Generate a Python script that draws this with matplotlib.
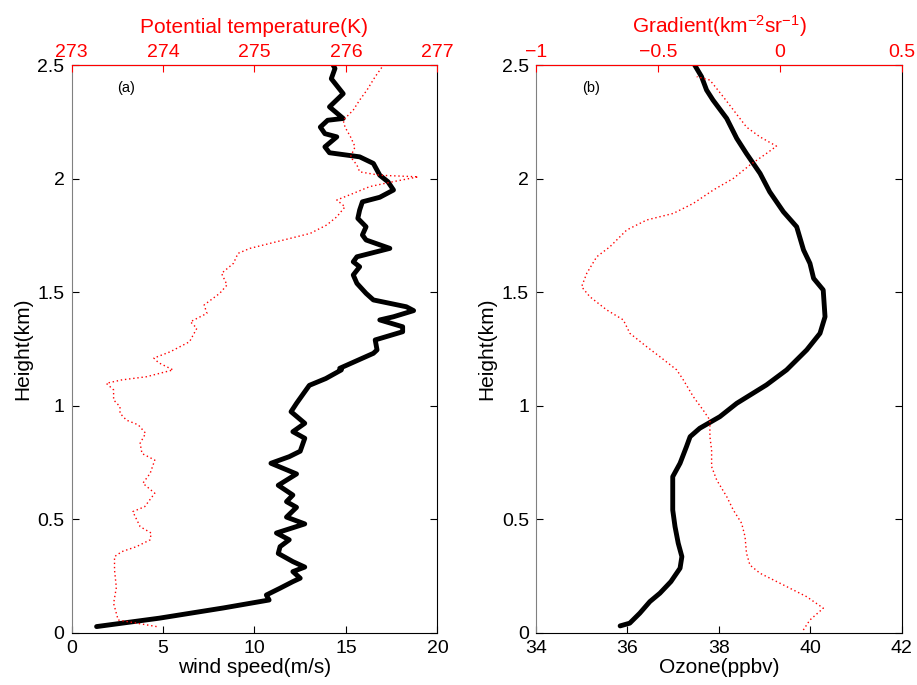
import numpy as np
import matplotlib.pyplot as plt
from matplotlib.ticker import FuncFormatter

plt.rcParams['font.family'] = ['Liberation Sans', 'DejaVu Sans']
plt.rcParams['mathtext.fontset'] = 'custom'
plt.rcParams['mathtext.rm'] = 'Liberation Sans'
plt.rcParams['mathtext.it'] = 'Liberation Sans'
plt.rcParams['axes.unicode_minus'] = True

# (a) 风速 (m/s) 随高度 (km)
wind_h = [0.028, 0.065, 0.11, 0.145, 0.167, 0.197, 0.226, 0.241, 0.27, 0.29, 0.314, 0.35,
          0.38, 0.41, 0.44, 0.48, 0.51, 0.553, 0.578, 0.607, 0.65, 0.70, 0.747, 0.776,
          0.80, 0.857, 0.886, 0.923, 0.974, 1.011, 1.062, 1.09, 1.12, 1.158, 1.165, 1.231,
          1.246, 1.29, 1.326, 1.348, 1.378, 1.392, 1.419, 1.436, 1.466, 1.495, 1.539, 1.576,
          1.612, 1.634, 1.656, 1.693, 1.730, 1.752, 1.788, 1.825, 1.862, 1.898, 1.918, 1.95,
          1.986, 2.015, 2.067, 2.096, 2.114, 2.140, 2.184, 2.198, 2.227, 2.257, 2.265, 2.316,
          2.374, 2.44, 2.485, 2.5]
wind = [1.37, 4.8, 8.3, 10.8, 10.65, 11.4, 12.1, 12.5, 12.1, 12.75, 12.1, 11.3,
        11.4, 11.9, 11.2, 12.75, 11.75, 12.3, 11.75, 12.1, 11.3, 12.3, 10.9, 11.9,
        12.5, 12.75, 12.1, 12.75, 12.0, 12.3, 12.75, 13.0, 13.9, 14.75, 14.66, 16.5,
        16.7, 16.6, 18.1, 18.1, 16.85, 17.6, 18.7, 18.3, 16.5, 16.1, 15.6, 15.4,
        15.75, 15.4, 15.6, 17.4, 16.1, 15.9, 16.1, 15.65, 15.75, 15.9, 16.85, 17.6,
        17.3, 16.85, 16.5, 15.75, 14.1, 13.85, 14.5, 13.85, 13.6, 14.0, 14.85, 14.1,
        14.85, 14.2, 14.4, 14.3]

# (a) 位温 (K)
theta_h = [0.028, 0.057, 0.13, 0.20, 0.277, 0.336, 0.358, 0.38, 0.41, 0.44, 0.468, 0.534,
           0.556, 0.615, 0.659, 0.703, 0.761, 0.79, 0.835, 0.879, 0.916, 0.937, 0.967,
           0.996, 1.026, 1.07, 1.099, 1.114, 1.128, 1.158, 1.19, 1.21, 1.238, 1.282,
           1.341, 1.37, 1.407, 1.444, 1.495, 1.532, 1.583, 1.627, 1.671, 1.693, 1.722,
           1.759, 1.796, 1.832, 1.876, 1.906, 1.935, 1.965, 1.987, 2.008, 2.015, 2.03,
           2.06, 2.096, 2.14, 2.184, 2.227, 2.257, 2.302, 2.346, 2.39, 2.449, 2.5]
theta = [273.93, 273.51, 273.46, 273.49, 273.47, 273.47, 273.55, 273.71, 273.86, 273.87,
         273.75, 273.67, 273.80, 273.91, 273.78, 273.86, 273.91, 273.77, 273.75, 273.81,
         273.73, 273.60, 273.53, 273.53, 273.46, 273.46, 273.38, 273.55, 273.82, 274.11,
         273.95, 273.90, 274.08, 274.29, 274.37, 274.30, 274.48, 274.45, 274.62, 274.70,
         274.64, 274.77, 274.82, 274.95, 275.24, 275.61, 275.79, 275.90, 275.99, 275.90,
         276.08, 276.26, 276.52, 276.79, 276.37, 276.15, 276.12, 276.05, 276.10, 276.05,
         275.99, 275.97, 276.08, 276.15, 276.23, 276.32, 276.41]

# (b) 臭氧 (ppbv)
ozone_h = [0.031, 0.043, 0.087, 0.138, 0.175, 0.226, 0.285, 0.336, 0.395, 0.468, 0.541,
           0.63, 0.688, 0.747, 0.82, 0.864, 0.901, 0.952, 1.011, 1.092, 1.158, 1.246,
           1.319, 1.392, 1.51, 1.561, 1.627, 1.686, 1.788, 1.854, 1.942, 2.023, 2.111,
           2.177, 2.265, 2.346, 2.39, 2.449, 2.5]
ozone = [35.84, 36.05, 36.27, 36.49, 36.71, 36.95, 37.15, 37.19, 37.11, 37.04, 36.99,
         36.99, 36.99, 37.15, 37.29, 37.37, 37.58, 38.02, 38.39, 39.04, 39.48, 39.92,
         40.21, 40.32, 40.28, 40.07, 39.99, 39.85, 39.70, 39.41, 39.11, 38.90, 38.60,
         38.39, 38.17, 37.87, 37.73, 37.62, 37.47]

# (b) 梯度 (km^-2 sr^-1)
grad_h = [0.013, 0.057, 0.109, 0.16, 0.219, 0.263, 0.299, 0.351, 0.424, 0.483, 0.541,
          0.6, 0.673, 0.732, 0.805, 0.864, 0.937, 0.98, 1.04, 1.114, 1.158, 1.216, 1.26,
          1.319, 1.378, 1.422, 1.48, 1.524, 1.583, 1.656, 1.70, 1.774, 1.818, 1.847,
          1.891, 1.95, 2.001, 2.06, 2.111, 2.143, 2.184, 2.227, 2.265, 2.36, 2.434, 2.449]
grad = [0.096, 0.123, 0.178, 0.109, 0.0, -0.082, -0.123, -0.137, -0.143, -0.157, -0.191,
        -0.218, -0.259, -0.28, -0.28, -0.287, -0.287, -0.314, -0.355, -0.396, -0.423,
        -0.492, -0.546, -0.615, -0.642, -0.71, -0.779, -0.813, -0.792, -0.751, -0.697,
        -0.628, -0.546, -0.437, -0.355, -0.273, -0.191, -0.123, -0.055, -0.014, -0.082,
        -0.137, -0.164, -0.232, -0.287, -0.341]


def fmt(v, pos):
    return ('%g' % v).replace('-', '\u2212')


def style_axes(ax, top):
    ax.tick_params(direction='in', length=5, labelsize=14, top=False, right=True, pad=5)
    ax.yaxis.set_major_formatter(FuncFormatter(fmt))
    ax.xaxis.set_major_formatter(FuncFormatter(fmt))
    ax.spines['left'].set_color('0.5')
    top.tick_params(axis='x', direction='in', length=5, labelsize=14,
                    colors='red', pad=3)
    top.spines['top'].set_color('red')
    top.spines['left'].set_visible(False)
    top.spines['right'].set_visible(False)
    top.spines['bottom'].set_visible(False)
    top.xaxis.set_major_formatter(FuncFormatter(fmt))


fig = plt.figure(figsize=(9.17, 6.85), dpi=100)

# 子图 (a)
ax1 = fig.add_axes([0.078, 0.076, 0.399, 0.829])
ax1.plot(wind, wind_h, 'k-', linewidth=3.5, solid_capstyle='round', solid_joinstyle='round')
ax1.set_xlim(0, 20)
ax1.set_ylim(0, 2.5)
ax1.set_xticks([0, 5, 10, 15, 20])
ax1.set_yticks([0, 0.5, 1, 1.5, 2, 2.5])
ax1.set_xlabel('wind speed(m/s)', fontsize=15, labelpad=1)
ax1.set_ylabel('Height(km)', fontsize=15, labelpad=4)
ax1.text(2.5, 2.4, '(a)', fontsize=10.5, va='center')
ax1t = ax1.twiny()
ax1t.plot(theta, theta_h, color='red', linestyle=(0, (1, 2)), linewidth=1.0)
ax1t.set_xlim(273, 277)
ax1t.set_xticks([273, 274, 275, 276, 277])
ax1t.set_xlabel('Potential temperature(K)', fontsize=15, color='red', labelpad=8)
style_axes(ax1, ax1t)

# 子图 (b)
ax2 = fig.add_axes([0.5845, 0.076, 0.399, 0.829])
ax2.plot(ozone, ozone_h, 'k-', linewidth=3.5, solid_capstyle='round', solid_joinstyle='round')
ax2.set_xlim(34, 42)
ax2.set_ylim(0, 2.5)
ax2.set_xticks([34, 36, 38, 40, 42])
ax2.set_yticks([0, 0.5, 1, 1.5, 2, 2.5])
ax2.set_xlabel('Ozone(ppbv)', fontsize=15, labelpad=1)
ax2.set_ylabel('Height(km)', fontsize=15, labelpad=4)
ax2.text(35.0, 2.4, '(b)', fontsize=10.5, va='center')
ax2t = ax2.twiny()
ax2t.plot(grad, grad_h, color='red', linestyle=(0, (1, 2)), linewidth=1.0)
ax2t.set_xlim(-1, 0.5)
ax2t.set_xticks([-1, -0.5, 0, 0.5])
ax2t.set_xlabel(r'Gradient(km$^{\mathregular{-2}}$sr$^{\mathregular{-1}}$)', fontsize=15,
                color='red', labelpad=8)
style_axes(ax2, ax2t)

fig.savefig('out.png', dpi=100)
